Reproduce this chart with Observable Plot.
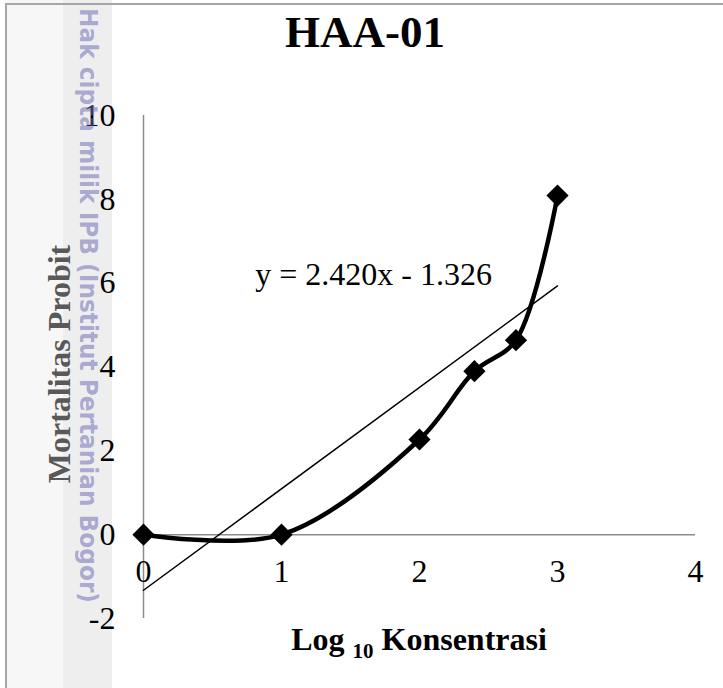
<!DOCTYPE html>
<html>
<head>
<meta charset="utf-8">
<script src="https://cdn.jsdelivr.net/npm/d3@7"></script>
<script src="https://cdn.jsdelivr.net/npm/@observablehq/plot@0.6"></script>
<style>
  html, body { margin: 0; padding: 0; background: #ffffff; }
  #chart { position: relative; width: 723px; height: 688px; overflow: hidden; }
  .band-a { position: absolute; left: 7px; top: 0; width: 56px; height: 688px; background: #f7f7f7; }
  .band-b { position: absolute; left: 63px; top: 0; width: 49px; height: 688px; background: #eeeeee; }
  .edge-left { position: absolute; left: 5px; top: 3px; width: 2px; height: 685px; background: #a6a6a6; }
  .edge-top { position: absolute; left: 5px; top: 3px; width: 718px; height: 2px; background: #a6a6a6; }
  #chart svg { position: absolute; left: 0; top: 0; }
</style>
</head>
<body>
<div id="chart">
  <div class="band-a"></div>
  <div class="band-b"></div>
  <div class="edge-left"></div>
  <div class="edge-top"></div>
</div>
<script>
// Probit mortality against log10 concentration, sample HAA-01
const logKonsentrasi = [0, 1, 2, 2.398, 2.699, 3];
const probit = [0, 0, 2.27, 3.9, 4.64, 8.09];

// Linear trendline fitted over the observations
const trendSlope = 2.420;
const trendIntercept = -1.326;
const trendRange = [0, 3];

const xTicks = [0, 1, 2, 3, 4];
const yTicks = [-2, 0, 2, 4, 6, 8, 10];

const titleText = "HAA-01";
const yTitle = "Mortalitas Probit";
const watermark = "Hak cipta milik IPB (Institut Pertanian Bogor)";

const points = logKonsentrasi.map((x, i) => ({x, y: probit[i]}));
const trend = trendRange.map(x => ({x, y: trendSlope * x + trendIntercept}));
const equation = `y = ${trendSlope.toFixed(3)}x ${trendIntercept < 0 ? "-" : "+"} ${Math.abs(trendIntercept).toFixed(3)}`;

const serif = "'Liberation Serif', 'Times New Roman', serif";

const plot = Plot.plot({
  width: 723,
  height: 688,
  marginLeft: 143,
  marginRight: 28,
  marginTop: 115,
  marginBottom: 70,
  x: {domain: [0, 4], axis: null},
  y: {domain: [-2, 10], axis: null},
  style: {background: "transparent", fontFamily: serif, overflow: "visible"},
  marks: [
    // axis lines crossing at the origin
    Plot.ruleY([0], {x1: xTicks[0], x2: xTicks[xTicks.length - 1], stroke: "#8c8c8c", strokeWidth: 1.5}),
    Plot.ruleX([0], {y1: yTicks[0], y2: yTicks[yTicks.length - 1], stroke: "#8c8c8c", strokeWidth: 1.5}),
    // tick labels
    Plot.text(yTicks, {x: 0, y: d => d, text: d => String(d), dx: -28, textAnchor: "end", lineAnchor: "middle", fontSize: 32, fill: "#000"}),
    Plot.text(xTicks, {x: d => d, y: 0, text: d => String(d), dy: 37, textAnchor: "middle", lineAnchor: "middle", fontSize: 32, fill: "#000"}),
    // trendline and its equation
    Plot.line(trend, {x: "x", y: "y", stroke: "#000", strokeWidth: 1.5}),
    Plot.text([equation], {x: 0.81, y: 6.2, textAnchor: "start", lineAnchor: "middle", fontSize: 32, fill: "#000"}),
    // smoothed observation curve with diamond markers
    Plot.line(points, {x: "x", y: "y", curve: "catmull-rom", stroke: "#000", strokeWidth: 4.5}),
    Plot.dot(points, {x: "x", y: "y", symbol: "diamond2", r: 10, fill: "#000", stroke: "none"})
  ]
});

document.getElementById("chart").appendChild(plot);

const svg = d3.select(plot);
const xs = plot.scale("x");

// chart title
svg.append("text")
  .attr("x", 365).attr("y", 47)
  .attr("text-anchor", "middle")
  .style("font-family", serif).style("font-weight", "bold").style("font-size", "45px")
  .attr("fill", "#000")
  .text(titleText);

// y axis title
svg.append("text")
  .attr("transform", "translate(70,364) rotate(-90)")
  .attr("text-anchor", "middle")
  .style("font-family", serif).style("font-weight", "bold").style("font-size", "32px")
  .attr("fill", "#595959")
  .text(yTitle);

// x axis title with subscript base
const xt = svg.append("text")
  .attr("x", xs.apply(2)).attr("y", 650)
  .attr("text-anchor", "middle")
  .style("font-family", serif).style("font-weight", "bold").style("font-size", "32px")
  .attr("fill", "#000");
xt.append("tspan").text("Log ");
xt.append("tspan").attr("dy", 8).style("font-size", "21px").text("10");
xt.append("tspan").attr("dy", -8).text(" Konsentrasi");

// repository watermark along the left edge
svg.append("text")
  .attr("transform", "translate(80,8) rotate(90)")
  .attr("text-anchor", "start")
  .attr("textLength", 595)
  .attr("lengthAdjust", "spacingAndGlyphs")
  .style("font-family", "'DejaVu Sans', sans-serif").style("font-weight", "bold").style("font-size", "24px")
  .attr("fill", "rgba(110,110,185,0.55)")
  .text(watermark);
</script>
</body>
</html>
